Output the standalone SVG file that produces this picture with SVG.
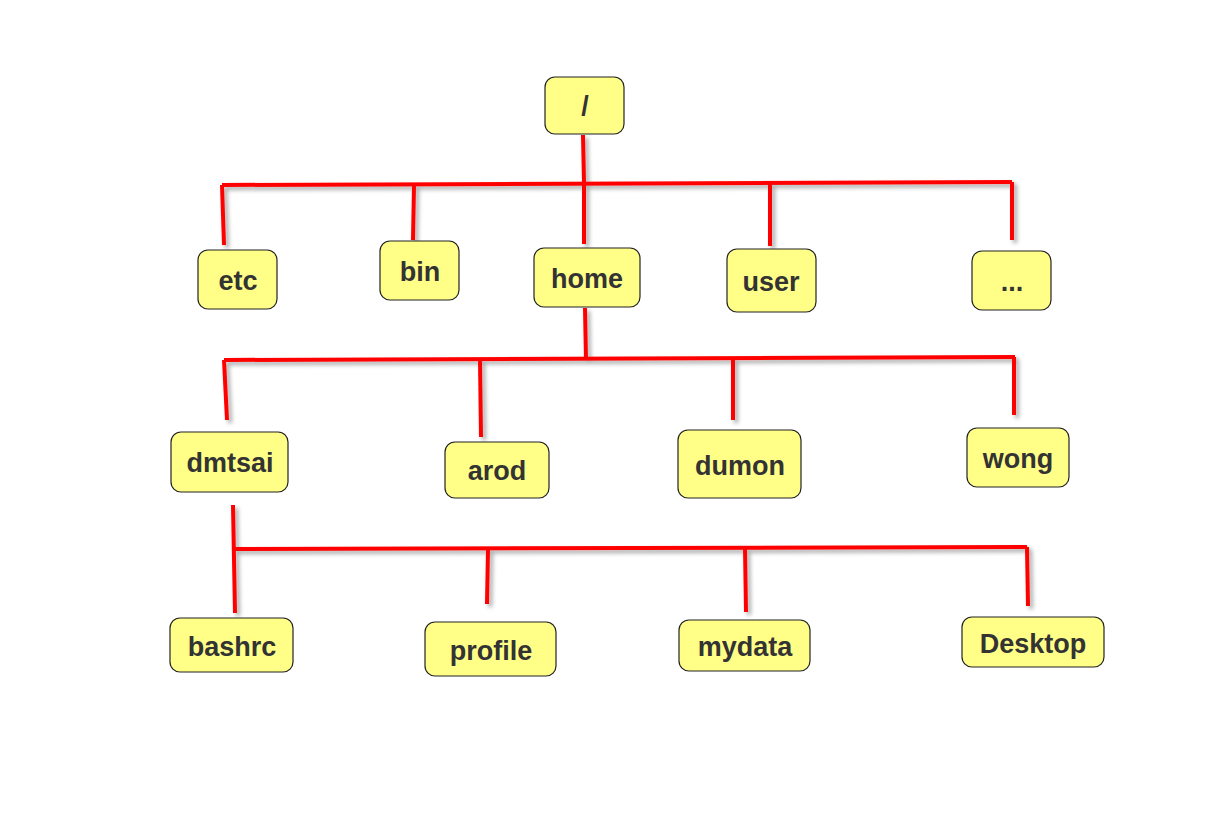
<svg xmlns="http://www.w3.org/2000/svg" width="1214" height="824" viewBox="0 0 1214 824">
<defs>
<filter id="sh" x="-20%" y="-20%" width="140%" height="140%">
<feDropShadow dx="3" dy="3" stdDeviation="2" flood-color="#000" flood-opacity="0.35"/>
</filter>
<style>
.n rect{fill:#FFFF88;stroke:#222;stroke-width:1.2}
.n text{font-family:"Liberation Sans",Arial,sans-serif;font-weight:bold;font-size:27px;fill:#333;text-anchor:middle;dominant-baseline:central}
.c path{fill:none;stroke:#FF0000;stroke-width:4;stroke-linecap:butt}
</style>
</defs>
<rect width="1214" height="824" fill="#fff"/>
<g class="c" filter="url(#sh)">
<path d="M583 135 L584 183"/>
<path d="M222 185 L1012 182"/>
<path d="M222 185 L224 245"/>
<path d="M414 185 L413 240"/>
<path d="M584 183 L584 244"/>
<path d="M770 183 L770 246"/>
<path d="M1012 182 L1012 240"/>
<path d="M585 308 L586 360"/>
<path d="M224 360 L1015 357"/>
<path d="M224 360 L227 420"/>
<path d="M480 359 L481 437"/>
<path d="M733 358 L733 420"/>
<path d="M1014 357 L1014 415"/>
<path d="M233 505 L235 613"/>
<path d="M235 549 L1027 547"/>
<path d="M488 549 L487 604"/>
<path d="M745 548 L746 612"/>
<path d="M1027 547 L1028 606"/>
</g>
<g id="root" class="n"><rect x="545" y="77" width="79" height="57" rx="10"/><text x="585" y="106">/</text></g>
<g id="etc" class="n"><rect x="198" y="250" width="79" height="59" rx="10"/><text x="238" y="281">etc</text></g>
<g id="bin" class="n"><rect x="380" y="241" width="79" height="59" rx="10"/><text x="420" y="272">bin</text></g>
<g id="home" class="n"><rect x="534" y="248" width="106" height="59" rx="10"/><text x="587" y="279">home</text></g>
<g id="user" class="n"><rect x="727" y="249" width="89" height="63" rx="10"/><text x="771" y="282">user</text></g>
<g id="more" class="n"><rect x="972" y="251" width="79" height="59" rx="10"/><text x="1012" y="282">...</text></g>
<g id="dmtsai" class="n"><rect x="171" y="432" width="117" height="60" rx="10"/><text x="230" y="463">dmtsai</text></g>
<g id="arod" class="n"><rect x="445" y="442" width="104" height="56" rx="10"/><text x="497" y="471">arod</text></g>
<g id="dumon" class="n"><rect x="678" y="430" width="123" height="68" rx="10"/><text x="740" y="466">dumon</text></g>
<g id="wong" class="n"><rect x="967" y="428" width="102" height="59" rx="10"/><text x="1018" y="459">wong</text></g>
<g id="bashrc" class="n"><rect x="170" y="618" width="123" height="54" rx="10"/><text x="232" y="647">bashrc</text></g>
<g id="profile" class="n"><rect x="425" y="622" width="131" height="54" rx="10"/><text x="491" y="651">profile</text></g>
<g id="mydata" class="n"><rect x="679" y="620" width="131" height="51" rx="10"/><text x="745" y="647">mydata</text></g>
<g id="Desktop" class="n"><rect x="962" y="617" width="142" height="50" rx="10"/><text x="1033" y="644">Desktop</text></g>
</svg>
